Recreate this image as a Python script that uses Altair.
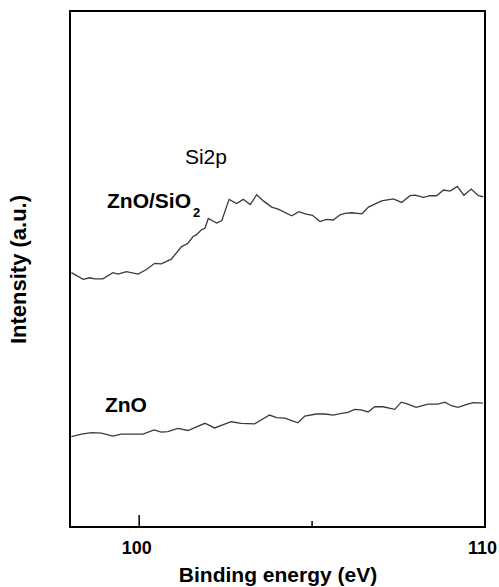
import altair as alt
import pandas as pd

# Si2p XPS spectra (binding energy in eV, intensity in arbitrary units, curves offset)
be_sio2 = [98.04, 98.38, 98.57, 98.71, 98.95, 99.24, 99.39, 99.63, 99.97, 100.21,
           100.45, 100.64, 100.93, 101.22, 101.41, 101.56, 101.65, 101.80, 101.90, 102.00,
           102.24, 102.39, 102.60, 102.82, 103.01, 103.21, 103.40, 103.59, 103.83, 104.02,
           104.41, 104.62, 104.80, 105.01, 105.23, 105.42, 105.61, 105.81, 105.95, 106.15,
           106.44, 106.63, 107.01, 107.35, 107.59, 107.83, 107.98, 108.22, 108.41, 108.60,
           108.80, 108.99, 109.20, 109.39, 109.60, 109.81, 109.95]
int_sio2 = [49.3, 48.0, 48.3, 48.1, 48.1, 49.3, 49.0, 49.5, 49.0, 49.9,
            51.1, 51.0, 51.9, 54.3, 55.0, 56.3, 56.6, 57.6, 57.9, 59.8,
            58.9, 59.4, 63.5, 62.7, 63.5, 62.5, 64.4, 63.2, 62.0, 61.6,
            60.3, 61.1, 60.7, 60.4, 59.2, 59.6, 59.5, 60.5, 60.8, 60.9,
            60.7, 62.0, 63.2, 63.6, 62.9, 64.2, 64.3, 63.9, 64.2, 64.2,
            65.3, 65.1, 66.0, 64.3, 65.5, 64.2, 64.0]

be_zno = [98.04, 98.33, 98.62, 98.91, 99.24, 99.48, 99.82, 100.11, 100.43, 100.64,
          100.83, 101.12, 101.41, 101.90, 102.18, 102.66, 102.95, 103.34, 103.77, 103.97,
          104.21, 104.59, 104.79, 105.12, 105.37, 105.61, 105.85, 106.04, 106.23, 106.42,
          106.62, 106.81, 107.05, 107.39, 107.58, 107.77, 108.01, 108.35, 108.64, 108.84,
          109.03, 109.22, 109.41, 109.65, 109.94]
int_zno = [17.5, 18.0, 18.3, 18.2, 17.6, 18.0, 18.0, 18.0, 18.8, 18.4,
           18.5, 19.1, 18.7, 20.1, 19.2, 20.4, 20.1, 20.0, 21.7, 21.2,
           21.1, 20.2, 21.5, 21.9, 21.9, 21.7, 22.0, 22.2, 22.8, 22.7,
           22.3, 23.3, 23.3, 22.8, 24.2, 23.8, 23.2, 23.8, 23.8, 24.2,
           23.5, 23.2, 23.6, 24.1, 24.0]

# labels inside the plot
label_text = ["ZnO/SiO", "ZnO"]
label_be = [99.07, 99.01]
label_int = [63.0, 23.4]
sub_text = ["2"]
sub_be = [101.56]
sub_int = [60.8]
peak_text = ["Si2p"]
peak_be = [101.93]
peak_int = [71.5]

major_ticks = [100]
minor_ticks = [105]
tick_labels = [100, 110]

FONT = "Liberation Sans"
X_MIN, X_MAX = 98, 110
W, H = 415, 516

spectra = pd.concat([
    pd.DataFrame({"be": be_sio2, "intensity": int_sio2, "sample": "ZnO/SiO2"}),
    pd.DataFrame({"be": be_zno, "intensity": int_zno, "sample": "ZnO"}),
])

x_scale = alt.Scale(domain=[X_MIN, X_MAX], nice=False, zero=False)
y_scale = alt.Scale(domain=[0, 100], nice=False, zero=False)

x_enc = alt.X(
    "be:Q", scale=x_scale,
    axis=alt.Axis(
        title="Binding energy (eV)", values=tick_labels, format="d",
        domain=False, ticks=False, grid=False,
        labelFont=FONT, labelFontSize=18, labelFontWeight="bold", labelColor="black",
        labelPadding=12, labelFlush=False, labelOffset=-3,
        titleFont=FONT, titleFontSize=21, titleFontWeight="bold", titleColor="black",
        titlePadding=7,
    ),
)
y_enc = alt.Y(
    "intensity:Q", scale=y_scale,
    axis=alt.Axis(
        title="Intensity (a.u.)", domain=False, ticks=False, labels=False, grid=False,
        titleFont=FONT, titleFontSize=22, titleFontWeight="bold", titleColor="black",
        titlePadding=40,
    ),
)

lines = alt.Chart(spectra).mark_line(color="#3a3a3a", strokeWidth=1.3).encode(
    x=x_enc, y=y_enc, detail="sample:N"
)

labels = alt.Chart(pd.DataFrame({"be": label_be, "intensity": label_int, "t": label_text})).mark_text(
    font=FONT, fontSize=21, fontWeight="bold", align="left", baseline="middle", color="black"
).encode(x=alt.X("be:Q", scale=x_scale), y=alt.Y("intensity:Q", scale=y_scale), text="t:N")

sub = alt.Chart(pd.DataFrame({"be": sub_be, "intensity": sub_int, "t": sub_text})).mark_text(
    font=FONT, fontSize=13, fontWeight="bold", align="left", baseline="middle", color="black"
).encode(x=alt.X("be:Q", scale=x_scale), y=alt.Y("intensity:Q", scale=y_scale), text="t:N")

peak = alt.Chart(pd.DataFrame({"be": peak_be, "intensity": peak_int, "t": peak_text})).mark_text(
    font=FONT, fontSize=21, align="center", baseline="middle", color="black"
).encode(x=alt.X("be:Q", scale=x_scale), y=alt.Y("intensity:Q", scale=y_scale), text="t:N")

major = alt.Chart(pd.DataFrame({"be": major_ticks})).mark_rule(color="black", strokeWidth=1.5).encode(
    x=alt.X("be:Q", scale=x_scale), y=alt.value(H - 12), y2=alt.value(H)
)
minor = alt.Chart(pd.DataFrame({"be": minor_ticks})).mark_rule(color="black", strokeWidth=1.5).encode(
    x=alt.X("be:Q", scale=x_scale), y=alt.value(H - 6), y2=alt.value(H)
)

chart = alt.layer(lines, labels, sub, peak, major, minor).properties(
    width=W, height=H,
    autosize=alt.AutoSizeParams(type="none"),
    padding={"left": 70, "top": 11, "right": 14, "bottom": 60},
    background="white",
).configure_view(stroke="black", strokeWidth=2)

chart.save("out.html", embed_options={"renderer": "svg", "actions": False})
